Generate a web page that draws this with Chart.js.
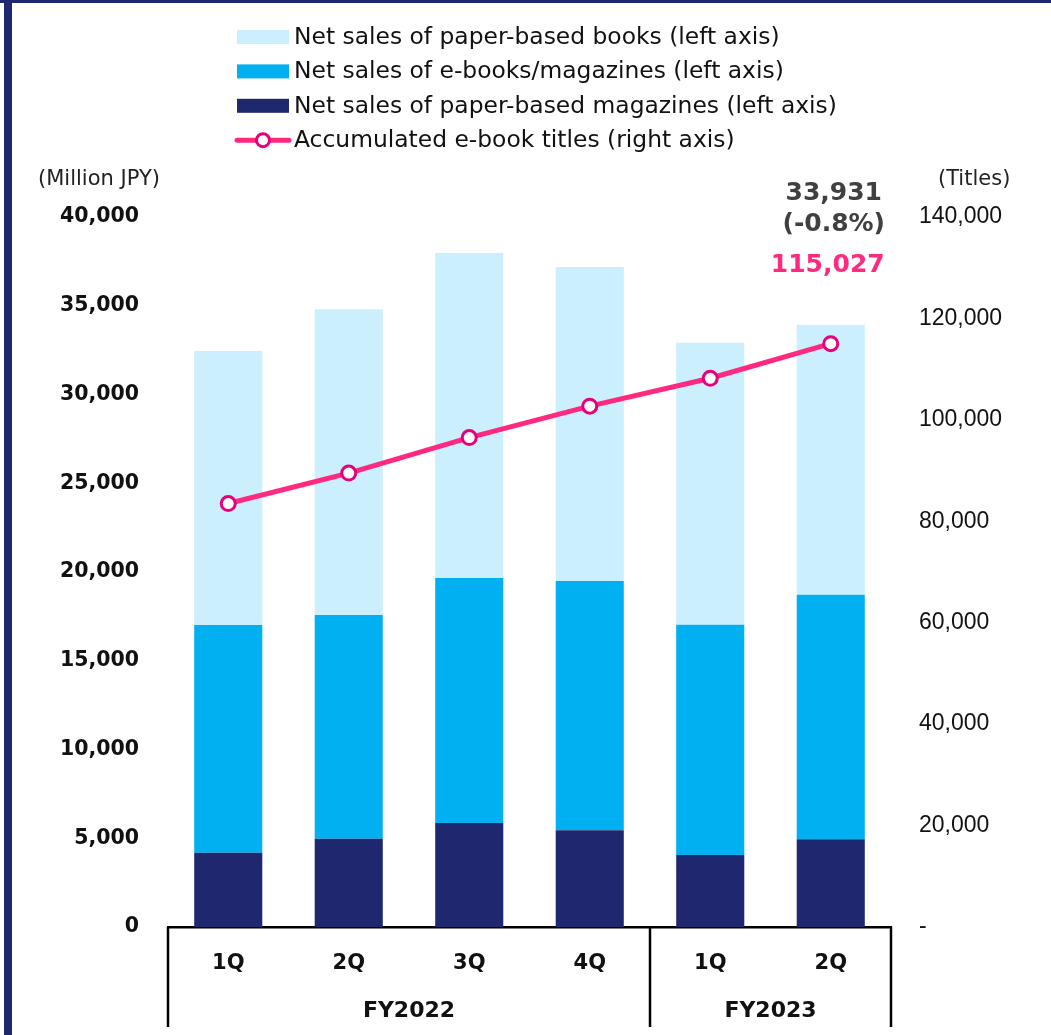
<!DOCTYPE html>
<html>
<head>
<meta charset="utf-8">
<script src="https://cdn.jsdelivr.net/npm/chart.js@4.4.0/dist/chart.umd.min.js"></script>
<style>
  html, body { margin: 0; padding: 0; background: #ffffff; }
  #wrap { position: relative; width: 1051px; height: 1035px; overflow: hidden; }
  #c { position: absolute; left: 0; top: 0; }
  .frame-top { position: absolute; left: 0; top: 0; width: 1051px; height: 3px; background: #1F286E; }
  .frame-left { position: absolute; left: 4px; top: 0; width: 8px; height: 1035px; background: #1F286E; }
</style>
</head>
<body>
<div id="wrap">
  <canvas id="c" width="1051" height="1035"></canvas>
  <div class="frame-top"></div>
  <div class="frame-left"></div>
</div>
<script>
// Quarterly categories and fiscal-year groups
const quarters = ['1Q', '2Q', '3Q', '4Q', '1Q', '2Q'];
const fiscalYears = ['FY2022', 'FY2023'];
const quartersPerYear = [4, 2];

// Net sales (million JPY), stacked bottom to top
const paperMagazines = [4190, 4970, 5860, 5450, 4060, 4940];
const eBooksMagazines = [12820, 12610, 13800, 14040, 12970, 13780];
const paperBooks = [15440, 17220, 18310, 17690, 15890, 15211];

// Accumulated e-book titles
const eBookTitles = [83500, 89500, 96500, 102700, 108200, 115027];

// Year-on-year change of the latest quarter's total
const latestChange = '(-0.8%)';

// Axis tick labels
const salesTicks = ['0', '5,000', '10,000', '15,000', '20,000', '25,000', '30,000', '35,000', '40,000'];
const titleTicks = ['-', '20,000', '40,000', '60,000', '80,000', '100,000', '120,000', '140,000'];

const COLORS = {
  books: '#CBEFFC',
  ebooks: '#00B0F0',
  magazines: '#1F286E',
  line: '#FF2A7F',
  marker: '#E6007E',
  note: '#404040'
};

const fmt = n => n.toLocaleString('en-US');

// Legend, axis captions, annotations and year grouping, drawn on the canvas
const extras = {
  id: 'extras',
  afterDraw(chart) {
    const ctx = chart.ctx;
    const xs = chart.scales.x;
    const area = chart.chartArea;
    ctx.save();

    // Legend (books, e-books, magazines, titles)
    const order = [2, 1, 0, 3];
    order.forEach((di, row) => {
      const ds = chart.data.datasets[di];
      const cy = 37 + row * 34.4;
      if (ds.type === 'line') {
        ctx.strokeStyle = ds.borderColor;
        ctx.lineWidth = 5;
        ctx.lineCap = 'round';
        ctx.beginPath();
        ctx.moveTo(237, cy);
        ctx.lineTo(289, cy);
        ctx.stroke();
        ctx.beginPath();
        ctx.arc(263, cy, 6.5, 0, Math.PI * 2);
        ctx.fillStyle = '#ffffff';
        ctx.fill();
        ctx.lineWidth = 3;
        ctx.strokeStyle = ds.pointBorderColor;
        ctx.stroke();
      } else {
        ctx.fillStyle = ds.backgroundColor;
        ctx.fillRect(237, cy - 7, 52, 14);
      }
      ctx.fillStyle = '#111111';
      ctx.font = '23.4px "DejaVu Sans"';
      ctx.textBaseline = 'middle';
      ctx.textAlign = 'left';
      ctx.fillText(ds.label, 294, cy + 1);
    });

    // Axis captions
    ctx.font = '21px "DejaVu Sans"';
    ctx.fillStyle = '#222222';
    ctx.textAlign = 'left';
    ctx.fillText('(Million JPY)', 38, 180);
    ctx.fillText('(Titles)', 938, 180);

    // Latest quarter annotations
    const last = quarters.length - 1;
    const lx = xs.getPixelForValue(last);
    const total = paperMagazines[last] + eBooksMagazines[last] + paperBooks[last];
    ctx.font = 'bold 25px "DejaVu Sans"';
    ctx.textAlign = 'center';
    ctx.fillStyle = COLORS.note;
    ctx.fillText(fmt(total), lx + 3, area.top - 24);
    ctx.fillText(latestChange, lx + 3, area.top + 7);
    ctx.fillStyle = COLORS.line;
    ctx.fillText(fmt(eBookTitles[last]), lx - 3, area.top + 48);

    // Fiscal-year grouping lines and labels
    const bottom = 1027;
    const bounds = [area.left];
    let idx = 0;
    quartersPerYear.forEach(n => {
      idx += n;
      if (idx < quarters.length) {
        bounds.push((xs.getPixelForValue(idx - 1) + xs.getPixelForValue(idx)) / 2);
      } else {
        bounds.push(area.right);
      }
    });
    ctx.strokeStyle = '#000000';
    ctx.lineWidth = 2.5;
    ctx.lineCap = 'butt';
    bounds.forEach(bx => {
      ctx.beginPath();
      ctx.moveTo(bx, area.bottom);
      ctx.lineTo(bx, bottom);
      ctx.stroke();
    });
    ctx.font = 'bold 22px "DejaVu Sans"';
    ctx.fillStyle = '#111111';
    ctx.textAlign = 'center';
    fiscalYears.forEach((fy, i) => {
      ctx.fillText(fy, (bounds[i] + bounds[i + 1]) / 2, 1011);
    });

    ctx.restore();
  }
};

new Chart(document.getElementById('c'), {
  data: {
    labels: quarters,
    datasets: [
      {
        type: 'bar',
        label: 'Net sales of paper-based magazines (left axis)',
        data: paperMagazines,
        backgroundColor: COLORS.magazines,
        yAxisID: 'y',
        stack: 'sales',
        order: 1
      },
      {
        type: 'bar',
        label: 'Net sales of e-books/magazines (left axis)',
        data: eBooksMagazines,
        backgroundColor: COLORS.ebooks,
        yAxisID: 'y',
        stack: 'sales',
        order: 1
      },
      {
        type: 'bar',
        label: 'Net sales of paper-based books (left axis)',
        data: paperBooks,
        backgroundColor: COLORS.books,
        yAxisID: 'y',
        stack: 'sales',
        order: 1
      },
      {
        type: 'line',
        label: 'Accumulated e-book titles (right axis)',
        data: eBookTitles,
        yAxisID: 'y1',
        borderColor: COLORS.line,
        borderWidth: 5,
        tension: 0,
        pointRadius: 7,
        pointBorderWidth: 3,
        pointBackgroundColor: '#ffffff',
        pointBorderColor: COLORS.marker,
        order: 0
      }
    ]
  },
  options: {
    responsive: false,
    animation: false,
    devicePixelRatio: 1,
    layout: { padding: { top: 217, left: 0, right: 0, bottom: 0 } },
    datasets: {
      bar: { barPercentage: 0.565, categoryPercentage: 1.0 }
    },
    plugins: {
      legend: { display: false },
      tooltip: { enabled: false }
    },
    scales: {
      x: {
        stacked: true,
        grid: { display: false, drawTicks: false },
        border: { display: true, color: '#000000', width: 2.5 },
        ticks: {
          padding: 24,
          color: '#111111',
          font: { family: 'DejaVu Sans', size: 21, weight: 'bold' },
          maxRotation: 0,
          autoSkip: false,
          callback: (v, i) => quarters[i]
        },
        afterFit: s => { s.height = 108; }
      },
      y: {
        type: 'linear',
        position: 'left',
        stacked: true,
        min: 0,
        max: 40000,
        grid: { display: false, drawTicks: false },
        border: { display: false },
        ticks: {
          stepSize: 5000,
          padding: 29,
          color: '#111111',
          autoSkip: false,
          font: { family: 'DejaVu Sans', size: 20.5, weight: 'bold' },
          callback: (v, i) => salesTicks[i]
        },
        afterFit: s => { s.width = 168; }
      },
      y1: {
        type: 'linear',
        position: 'right',
        min: 0,
        max: 140000,
        grid: { display: false, drawTicks: false },
        border: { display: false },
        ticks: {
          stepSize: 20000,
          padding: 28,
          color: '#111111',
          autoSkip: false,
          font: { family: 'Liberation Sans', size: 23 },
          callback: (v, i) => titleTicks[i]
        },
        afterFit: s => { s.width = 160; }
      }
    }
  },
  plugins: [extras]
});
</script>
</body>
</html>
